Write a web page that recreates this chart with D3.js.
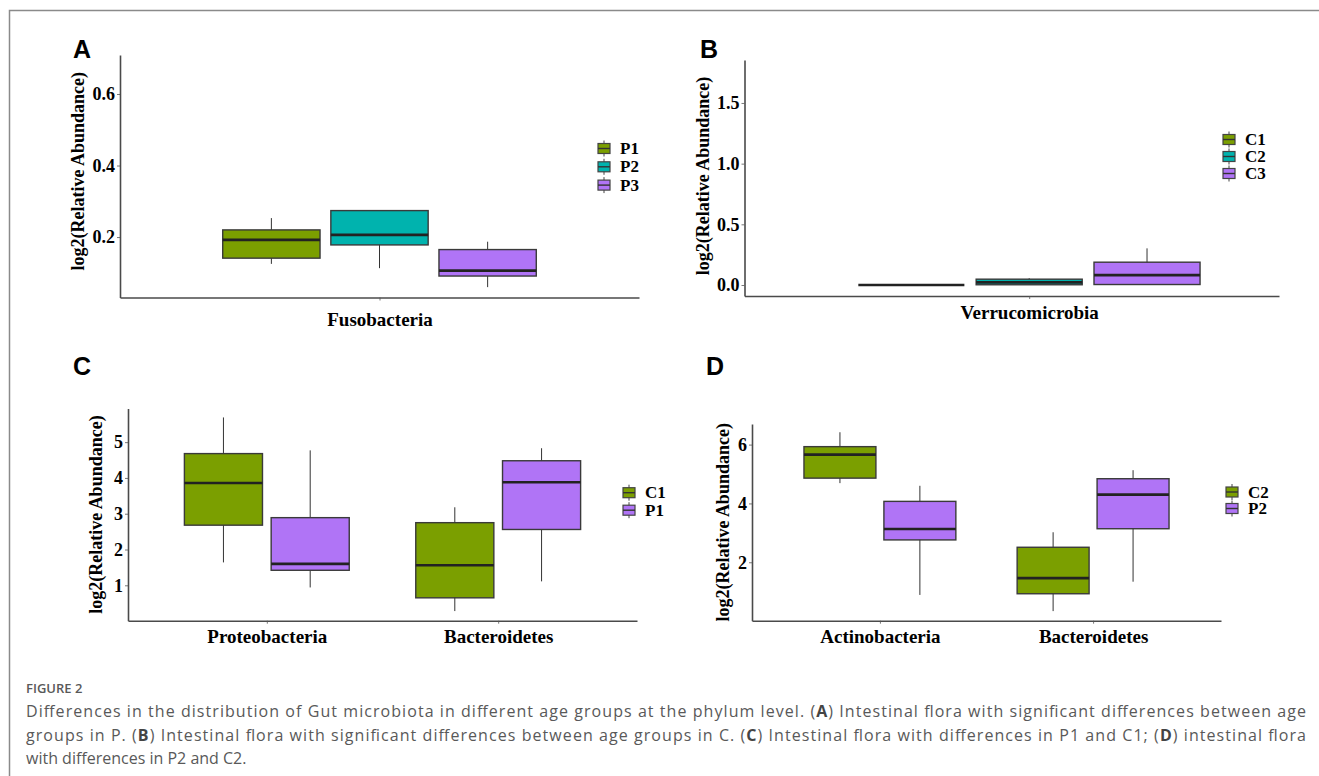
<!DOCTYPE html>
<html>
<head>
<meta charset="utf-8">
<script src="https://cdn.jsdelivr.net/npm/d3@7"></script>
<style>
  body { margin: 0; background: #fff; }
  svg { display: block; }
</style>
</head>
<body>
<div id="fig"></div>
<script>
// ---- data (whisker low, Q1, median, Q3, whisker high) ----
var catsA = ['Fusobacteria'];
var groupsA = ['P1', 'P2', 'P3'];
var statsA = [
  [[0.125, 0.141, 0.192, 0.220, 0.253]],   // P1
  [[0.113, 0.178, 0.206, 0.274, 0.274]],   // P2
  [[0.060, 0.091, 0.106, 0.165, 0.187]]    // P3
];
var ticksA = [0.2, 0.4, 0.6];

var catsB = ['Verrucomicrobia'];
var groupsB = ['C1', 'C2', 'C3'];
var statsB = [
  [[0, 0, 0, 0, 0]],                       // C1
  [[0, 0.002, 0.022, 0.048, 0.056]],       // C2
  [[0, 0.004, 0.081, 0.188, 0.302]]        // C3
];
var ticksB = [0, 0.5, 1.0, 1.5];

var catsC = ['Proteobacteria', 'Bacteroidetes'];
var groupsC = ['C1', 'P1'];
var statsC = [
  [[1.64, 2.68, 3.86, 4.68, 5.69], [0.28, 0.65, 1.56, 2.75, 3.18]],  // C1
  [[0.94, 1.42, 1.60, 2.89, 4.77], [1.11, 2.56, 3.88, 4.48, 4.83]]   // P1
];
var ticksC = [1, 2, 3, 4, 5];

var catsD = ['Actinobacteria', 'Bacteroidetes'];
var groupsD = ['C2', 'P2'];
var statsD = [
  [[4.69, 4.86, 5.66, 5.93, 6.42], [0.34, 0.93, 1.46, 2.51, 3.02]],  // C2
  [[0.89, 2.76, 3.13, 4.07, 4.60], [1.34, 3.14, 4.30, 4.84, 5.13]]   // P2
];
var ticksD = [2, 4, 6];

var GREEN = '#7b9f00', TEAL = '#00b3ae', PURPLE = '#b074f6';
var SERIF = '"Liberation Serif", "Times New Roman", serif';
var SANS = '"Liberation Sans", Arial, sans-serif';

var W = 1319, H = 776;
var svg = d3.select('#fig').append('svg')
    .attr('width', W)
    .attr('height', H);

// figure frame (left + top)
svg.append('path')
    .attr('d', 'M9.5,' + H + 'V10.5H' + W)
    .attr('fill', 'none')
    .attr('stroke', '#8a8a8a')
    .attr('stroke-width', 1.5);

function drawPanel(p) {
  var g = svg.append('g');

  var x = d3.scaleLinear().domain(p.xDomain).range([p.left, p.right]);
  var y = d3.scaleLinear().domain(p.yDomain).range([p.bottom, p.top]);
  var unit = x(1) - x(0);
  var n = p.groups.length;
  var slot = 0.75 / n;              // dodge width per group
  var bw = slot * 0.9 * unit;       // box width

  // panel letter
  g.append('text')
      .attr('x', p.letterX).attr('y', p.letterY)
      .style('font-family', SANS).style('font-weight', 'bold')
      .style('font-size', '25px')
      .text(p.letter);

  // axes
  var ya = g.append('g')
      .attr('transform', 'translate(' + p.left + ',0)')
      .call(d3.axisLeft(y).tickValues(p.ticks).tickSize(3).tickSizeOuter(0).tickPadding(2)
          .tickFormat(p.tickFmt));
  var xa = g.append('g')
      .attr('transform', 'translate(0,' + p.bottom + ')')
      .call(d3.axisBottom(x).tickValues(d3.range(1, p.cats.length + 1))
          .tickSize(3).tickSizeOuter(0).tickPadding(6)
          .tickFormat(function (d) { return p.cats[d - 1]; }));

  [ya, xa].forEach(function (a) {
    a.select('.domain').attr('stroke', '#4a4a4a').attr('stroke-width', 1.6);
    a.selectAll('.tick line').attr('stroke', '#555').attr('stroke-width', 0.8);
    a.selectAll('.tick text')
        .style('font-family', SERIF).style('font-weight', 'bold')
        .style('font-size', '18px').attr('fill', '#000');
  });
  xa.selectAll('.tick text').style('font-size', '19px').attr('dy', p.xLabDy);

  // y title
  g.append('text')
      .attr('transform', 'translate(' + p.titleX + ',' + ((p.top + p.bottom) / 2 + p.titleShift) + ') rotate(-90)')
      .attr('text-anchor', 'middle')
      .style('font-family', SERIF).style('font-weight', 'bold')
      .style('font-size', '18px')
      .text('log2(Relative Abundance)');

  // boxes
  p.stats.forEach(function (rows, gi) {
    rows.forEach(function (s, ci) {
      var cx = x(ci + 1 + (gi - (n - 1) / 2) * slot);
      var bg = g.append('g');
      bg.append('line')
          .attr('x1', cx).attr('x2', cx)
          .attr('y1', y(s[0])).attr('y2', y(s[4]))
          .attr('stroke', '#333').attr('stroke-width', 1);
      bg.append('rect')
          .attr('x', cx - bw / 2).attr('width', bw)
          .attr('y', y(s[3])).attr('height', Math.max(0, y(s[1]) - y(s[3])))
          .attr('fill', p.colors[gi])
          .attr('stroke', '#3a3a3a').attr('stroke-width', 1.4);
      bg.append('line')
          .attr('x1', cx - bw / 2).attr('x2', cx + bw / 2)
          .attr('y1', y(s[2])).attr('y2', y(s[2]))
          .attr('stroke', '#222').attr('stroke-width', 2.6);
    });
  });

  // legend
  p.groups.forEach(function (name, gi) {
    var cy = p.legY + gi * p.legStep;
    var kx = p.legX;
    var lg = g.append('g');
    lg.append('line')
        .attr('x1', kx + 6).attr('x2', kx + 6)
        .attr('y1', cy - 8).attr('y2', cy + 8)
        .attr('stroke', '#444').attr('stroke-width', 1);
    lg.append('rect')
        .attr('x', kx).attr('y', cy - 5).attr('width', 12).attr('height', 10)
        .attr('fill', p.colors[gi]).attr('stroke', '#444').attr('stroke-width', 1.2);
    lg.append('line')
        .attr('x1', kx).attr('x2', kx + 12).attr('y1', cy).attr('y2', cy)
        .attr('stroke', '#333').attr('stroke-width', 1.4);
    lg.append('text')
        .attr('x', kx + 22).attr('y', cy + 5.5)
        .style('font-family', SERIF).style('font-weight', 'bold')
        .style('font-size', '17px')
        .text(name);
  });
}

var fmt1 = d3.format('.1f');

drawPanel({
  letter: 'A', letterX: 73, letterY: 58,
  cats: catsA, groups: groupsA, stats: statsA, ticks: ticksA, tickFmt: fmt1,
  colors: [GREEN, TEAL, PURPLE],
  left: 120, right: 639, top: 55, bottom: 297.5,
  xDomain: [0.4, 1.6], yDomain: [0.031, 0.709],
  titleX: 84, titleShift: -5, xLabDy: '1.05em',
  legX: 598, legY: 148.5, legStep: 18.3
});

drawPanel({
  letter: 'B', letterX: 700, letterY: 58,
  cats: catsB, groups: groupsB, stats: statsB, ticks: ticksB, tickFmt: fmt1,
  colors: [GREEN, TEAL, PURPLE],
  left: 744.5, right: 1279, top: 60, bottom: 296,
  xDomain: [0.396, 1.53], yDomain: [-0.0906, 1.854],
  titleX: 709, titleShift: -2, xLabDy: '0.75em',
  legX: 1223, legY: 139.5, legStep: 17
});

drawPanel({
  letter: 'C', letterX: 73, letterY: 375,
  cats: catsC, groups: groupsC, stats: statsC, ticks: ticksC, tickFmt: d3.format('d'),
  colors: [GREEN, PURPLE],
  left: 128, right: 637, top: 408.5, bottom: 620.7,
  xDomain: [0.4, 2.6], yDomain: [0.011, 5.94],
  titleX: 102, titleShift: 0, xLabDy: '0.72em',
  legX: 623, legY: 492.7, legStep: 17.5
});

drawPanel({
  letter: 'D', letterX: 706, letterY: 375,
  cats: catsD, groups: groupsD, stats: statsD, ticks: ticksD, tickFmt: d3.format('d'),
  colors: [GREEN, PURPLE],
  left: 752, right: 1221, top: 424, bottom: 620.7,
  xDomain: [0.4, 2.6], yDomain: [0.014, 6.70],
  titleX: 729, titleShift: 0, xLabDy: '0.72em',
  legX: 1226, legY: 492, legStep: 16.5
});

// ---- caption ----
var cap = svg.append('g')
    .style('font-family', '"Open Sans", "Noto Sans", sans-serif')
    .attr('fill', '#595959');

cap.append('text')
    .attr('x', 26).attr('y', 693)
    .style('font-size', '13px').style('font-weight', 600)
    .text('FIGURE 2');

var capLines = [
  [['Differences in the distribution of Gut microbiota in different age groups at the phylum level. (', 0], ['A', 1], [') Intestinal flora with significant differences between age', 0]],
  [['groups in P. (', 0], ['B', 1], [') Intestinal flora with significant differences between age groups in C. (', 0], ['C', 1], [') Intestinal flora with differences in P1 and C1; (', 0], ['D', 1], [') intestinal flora', 0]],
  [['with differences in P2 and C2.', 0]]
];
var capY = [717, 740.5, 764];

capLines.forEach(function (parts, i) {
  var t = cap.append('text')
      .attr('x', 26).attr('y', capY[i])
      .style('font-size', '16px');
  if (i < 2) t.attr('textLength', 1280).attr('lengthAdjust', 'spacing');
  parts.forEach(function (pt) {
    t.append('tspan')
        .style('font-weight', pt[1] ? 700 : 400)
        .attr('fill', pt[1] ? '#444' : null)
        .text(pt[0]);
  });
});
</script>
</body>
</html>
